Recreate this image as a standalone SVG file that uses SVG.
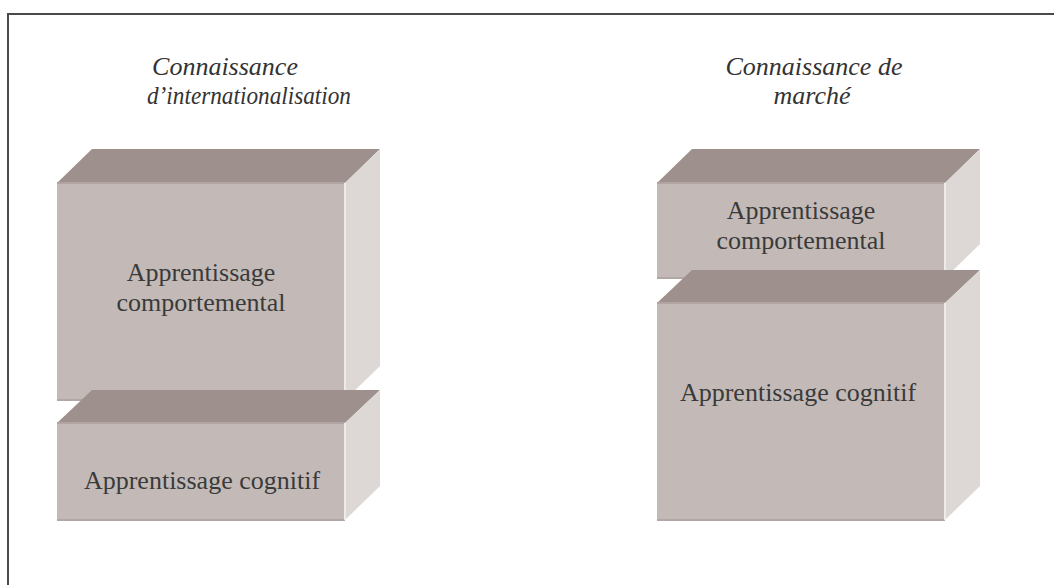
<svg xmlns="http://www.w3.org/2000/svg" width="1054" height="585" viewBox="0 0 1054 585">
<defs>
<style>
.top{fill:#9e918d}
.front{fill:#c3bab8}
.side{fill:#ddd8d5}
.edge-b{stroke:#b1a7a4;stroke-width:2}
.edge-r{stroke:#eeeae8;stroke-width:2}
.edge-t{stroke:#b0a5a2;stroke-width:2}
.lbl{font-family:"Liberation Serif","Times New Roman",serif;font-size:26px;fill:#3a3a3a;text-anchor:middle}
.ttl{font-family:"Liberation Serif","Times New Roman",serif;font-size:26px;font-style:italic;fill:#333;text-anchor:middle}
</style>
</defs>
<rect x="8" y="14" width="1080" height="600" fill="#fff" stroke="#4a4a4a" stroke-width="2"/>
<g id="title-left">
<text class="ttl" x="225" y="75">Connaissance</text>
<text class="ttl" x="249" y="104" textLength="204" lengthAdjust="spacingAndGlyphs">d’internationalisation</text>
</g>
<g id="title-right">
<text class="ttl" x="814" y="75">Connaissance de</text>
<text class="ttl" x="812" y="104">marché</text>
</g>
<g id="left-behavioral">
<polygon class="top" points="57,183 92,149 380,149 345,183"/>
<polygon class="side" points="345,183 380,149 380,366 345,400"/>
<rect class="front" x="57" y="183" width="288" height="217"/>
<line class="edge-t" x1="57" y1="183" x2="345" y2="183"/>
<line class="edge-b" x1="57" y1="400" x2="345" y2="400"/>
<line class="edge-r" x1="345" y1="183" x2="345" y2="400"/>
<text class="lbl" x="201" y="281">Apprentissage</text>
<text class="lbl" x="201" y="311">comportemental</text>
</g>
<g id="left-cognitive">
<polygon class="top" points="57,423 92,390 380,390 345,423"/>
<polygon class="side" points="345,423 380,390 380,486 345,520"/>
<rect class="front" x="57" y="423" width="288" height="97"/>
<line class="edge-t" x1="57" y1="423" x2="345" y2="423"/>
<line class="edge-b" x1="57" y1="520" x2="345" y2="520"/>
<line class="edge-r" x1="345" y1="423" x2="345" y2="520"/>
<text class="lbl" x="202" y="489">Apprentissage cognitif</text>
</g>
<g id="right-behavioral">
<polygon class="top" points="657,183 692,149 980,149 945,183"/>
<polygon class="side" points="945,183 980,149 980,244 945,278"/>
<rect class="front" x="657" y="183" width="288" height="95"/>
<line class="edge-t" x1="657" y1="183" x2="945" y2="183"/>
<line class="edge-b" x1="657" y1="278" x2="945" y2="278"/>
<line class="edge-r" x1="945" y1="183" x2="945" y2="278"/>
<text class="lbl" x="801" y="219">Apprentissage</text>
<text class="lbl" x="801" y="249">comportemental</text>
</g>
<g id="right-cognitive">
<polygon class="top" points="657,303 692,270 980,270 945,303"/>
<polygon class="side" points="945,303 980,270 980,486 945,520"/>
<rect class="front" x="657" y="303" width="288" height="217"/>
<line class="edge-t" x1="657" y1="303" x2="945" y2="303"/>
<line class="edge-b" x1="657" y1="520" x2="945" y2="520"/>
<line class="edge-r" x1="945" y1="303" x2="945" y2="520"/>
<text class="lbl" x="798" y="401">Apprentissage cognitif</text>
</g>
<g id="connectors"></g>
</svg>
